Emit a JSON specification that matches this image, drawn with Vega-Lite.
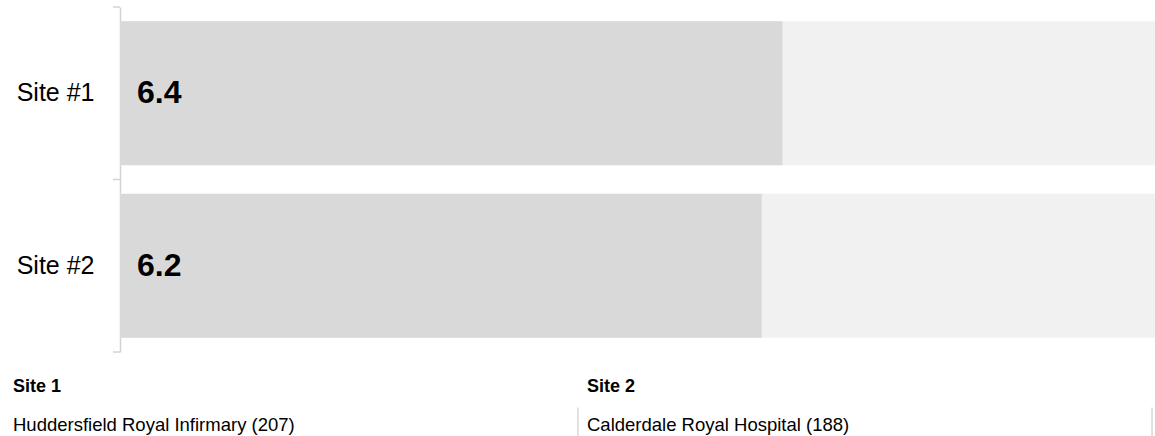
{
  "$schema": "https://vega.github.io/schema/vega-lite/v6.json",
  "padding": {"left": 0, "top": 6, "right": 0, "bottom": 0},
  "spacing": 0,
  "config": {"view": {"stroke": null}, "font": "Liberation Sans"},
  "vconcat": [
    {
      "width": 1035,
      "height": 345,
      "data": {"values": [
        {"site": "Site #1", "value": 6.4, "max": 10},
        {"site": "Site #2", "value": 6.2, "max": 10}
      ]},
      "encoding": {
        "y": {
          "field": "site", "type": "nominal", "sort": null,
          "scale": {"paddingInner": 0.165, "paddingOuter": 0.0825},
          "axis": {
            "title": null, "ticks": false,
            "domainColor": "#d3d3d3", "domainWidth": 1.5,
            "labelPadding": 26, "labelFontSize": 25, "labelColor": "#000",
            "labelFont": "Liberation Sans", "minExtent": 120, "maxExtent": 120
          }
        }
      },
      "layer": [
        {
          "mark": {"type": "bar", "color": "#f1f1f1"},
          "encoding": {"x": {"field": "max", "type": "quantitative", "scale": {"domain": [0, 9.785], "clamp": true}, "axis": null}}
        },
        {
          "mark": {"type": "bar", "color": "#d9d9d9"},
          "encoding": {"x": {"field": "value", "type": "quantitative", "axis": null}}
        },
        {
          "mark": {"type": "text", "align": "left", "baseline": "middle", "dx": 17, "fontSize": 32, "fontWeight": "bold", "color": "#000"},
          "encoding": {
            "x": {"datum": 0, "type": "quantitative", "axis": null},
            "text": {"field": "value", "type": "quantitative", "format": ".1f"}
          }
        },
        {
          "mark": {"type": "rule", "color": "#d3d3d3", "strokeWidth": 1.5, "xOffset": -7},
          "encoding": {
            "x": {"datum": 0, "type": "quantitative", "axis": null},
            "x2": {"datum": 0},
            "y": {"field": "site", "type": "nominal", "sort": null, "bandPosition": -0.0988}
          }
        },
        {
          "transform": [{"filter": "datum.site === 'Site #2'"}],
          "mark": {"type": "rule", "color": "#d3d3d3", "strokeWidth": 1.5, "xOffset": -7},
          "encoding": {
            "x": {"datum": 0, "type": "quantitative", "axis": null},
            "x2": {"datum": 0},
            "y": {"field": "site", "type": "nominal", "sort": null, "bandPosition": 1.0988}
          }
        }
      ]
    },
    {
      "width": 1035,
      "height": 83,
      "data": {"values": [
        {"site": "Site 1", "line": "head", "label": "Site 1"},
        {"site": "Site 1", "line": "name", "label": "Huddersfield Royal Infirmary (207)"},
        {"site": "Site 2", "line": "head", "label": "Site 2"},
        {"site": "Site 2", "line": "name", "label": "Calderdale Royal Hospital (188)"}
      ]},
      "layer": [
        {
          "transform": [{"filter": "datum.line === 'head'"}],
          "mark": {"type": "text", "align": "left", "baseline": "alphabetic", "dx": 13, "fontSize": 18, "fontWeight": "bold", "color": "#000"},
          "encoding": {
            "x": {"field": "site", "type": "nominal", "sort": null, "bandPosition": 0, "scale": {"type": "band", "paddingInner": 0, "paddingOuter": 0, "range": [-120, 1028]}, "axis": null},
            "y": {"field": "line", "type": "nominal", "sort": ["head", "name"], "bandPosition": 0.928, "scale": {"type": "band", "paddingInner": 0, "paddingOuter": 0}, "axis": null},
            "text": {"field": "label", "type": "nominal"}
          }
        },
        {
          "transform": [{"filter": "datum.line === 'name'"}],
          "mark": {"type": "text", "align": "left", "baseline": "alphabetic", "dx": 13, "fontSize": 18.5, "color": "#000"},
          "encoding": {
            "x": {"field": "site", "type": "nominal", "sort": null, "bandPosition": 0, "axis": null},
            "y": {"field": "line", "type": "nominal", "sort": ["head", "name"], "bandPosition": 0.884, "axis": null},
            "text": {"field": "label", "type": "nominal"}
          }
        },
        {
          "transform": [{"filter": "datum.line === 'name'"}],
          "mark": {"type": "rule", "color": "#c4c4c4", "strokeWidth": 1, "xOffset": 4},
          "encoding": {
            "x": {"field": "site", "type": "nominal", "sort": null, "bandPosition": 1, "axis": null},
            "y": {"field": "line", "type": "nominal", "sort": ["head", "name"], "bandPosition": 0.313, "axis": null},
            "y2": {"field": "line", "bandPosition": 1}
          }
        }
      ]
    }
  ]
}
